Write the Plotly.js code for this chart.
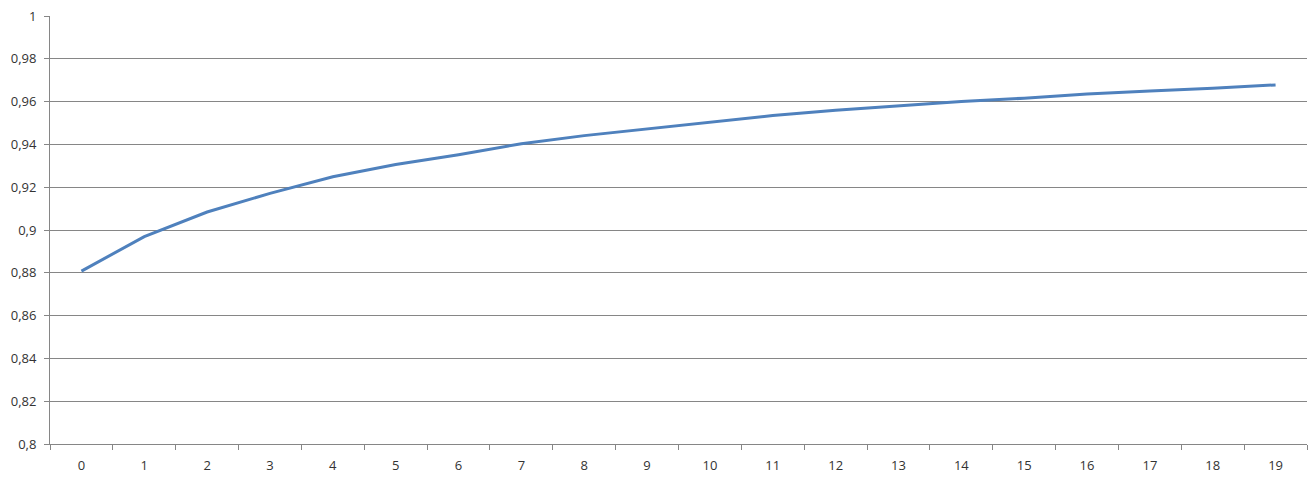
<!DOCTYPE html>
<html>
<head>
<meta charset="utf-8">
<script src="https://cdn.plot.ly/plotly-3.0.1.min.js"></script>
<style>
  html, body { margin: 0; padding: 0; background: #fff; }
  #chart { width: 1316px; height: 480px; }
</style>
</head>
<body>
<div id="chart"></div>
<script>
// categories along the bottom
const categories = ['0', '1', '2', '3', '4', '5', '6', '7', '8', '9',
    '10', '11', '12', '13', '14', '15', '16', '17', '18', '19'];

// series values
const seriesValues = [0.8808, 0.8969, 0.9084, 0.9171, 0.9249, 0.9306, 0.9352, 0.9403, 0.9441, 0.9472,
    0.9505, 0.9535, 0.9560, 0.9580, 0.9600, 0.9616, 0.9635, 0.9650, 0.9662, 0.9678];

// y tick labels (comma as decimal mark)
const yTickVals = [0.8, 0.82, 0.84, 0.86, 0.88, 0.9, 0.92, 0.94, 0.96, 0.98, 1];
const yTickText = ['0,8', '0,82', '0,84', '0,86', '0,88', '0,9', '0,92', '0,94', '0,96', '0,98', '1'];

const axisGrey = '#868686';
const textFont = { family: 'Open Sans, Liberation Sans, sans-serif', size: 13, color: '#333' };

const data = [{
    x: categories,
    y: seriesValues,
    type: 'scatter',
    mode: 'lines',
    line: { color: '#4F81BD', width: 3 },
    hoverinfo: 'x+y'
}];

const layout = {
    width: 1316, height: 480,
    paper_bgcolor: '#fff', plot_bgcolor: '#fff',
    margin: { l: 50, r: 9, t: 16, b: 36 },
    showlegend: false,
    separators: ',.',
    font: textFont,
    xaxis: {
        type: 'category',
        range: [-0.5, categories.length - 0.5],
        showgrid: false,
        showline: true, linecolor: axisGrey, linewidth: 1,
        ticks: 'outside', tickson: 'boundaries', ticklen: 5, tickcolor: axisGrey,
        ticklabelstandoff: 9,
        tickfont: textFont,
        zeroline: false
    },
    yaxis: {
        range: [0.8, 1],
        tickvals: yTickVals, ticktext: yTickText,
        showgrid: true, gridcolor: axisGrey, gridwidth: 1,
        showline: true, linecolor: axisGrey, linewidth: 1,
        ticks: 'outside', ticklen: 5, tickcolor: axisGrey,
        ticklabelstandoff: 5,
        tickfont: textFont,
        zeroline: false
    }
};

Plotly.newPlot('chart', data, layout, { displayModeBar: false, staticPlot: true });
</script>
</body>
</html>
